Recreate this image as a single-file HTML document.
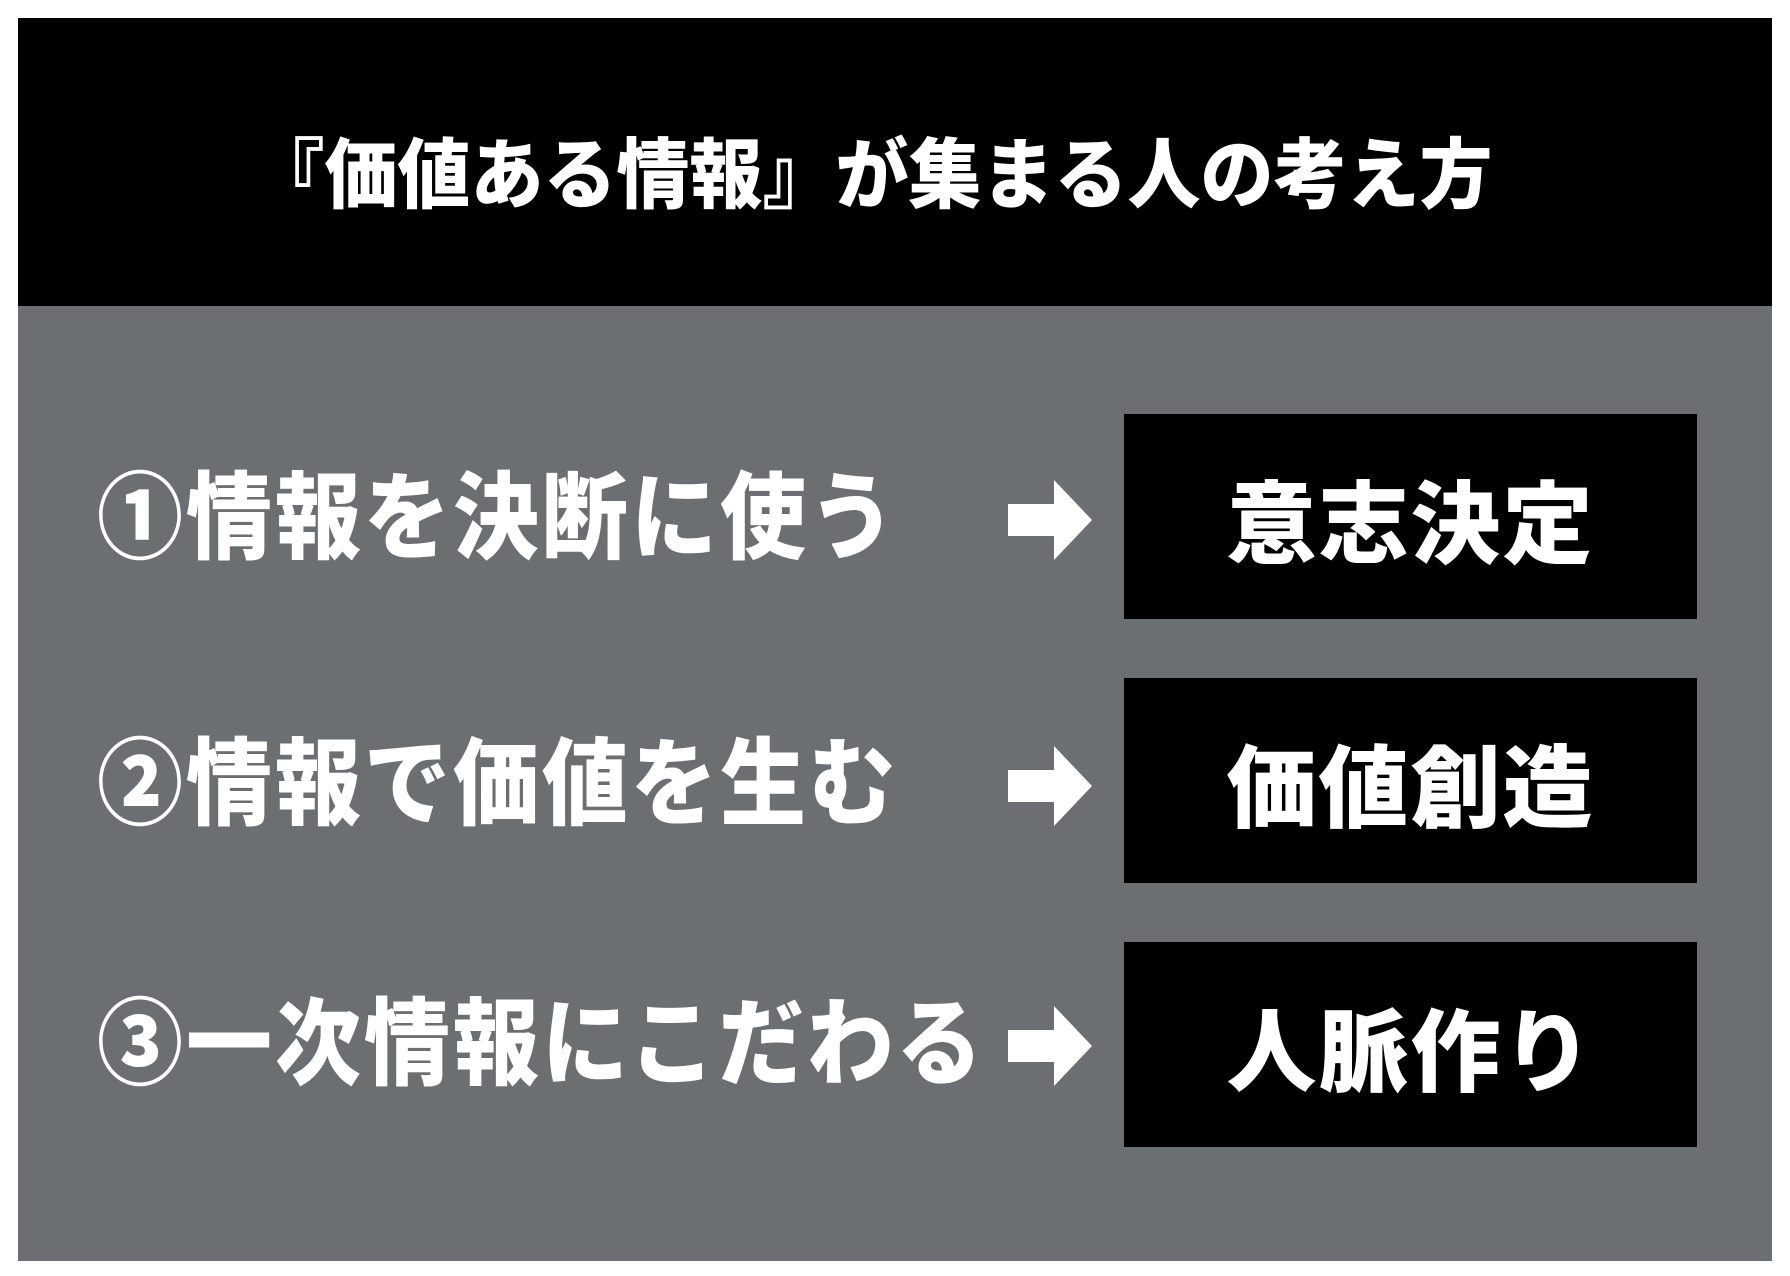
<!DOCTYPE html>
<html><head><meta charset="utf-8"><style>
body{margin:0;width:1790px;height:1276px;background:#fff;position:relative;overflow:hidden;font-family:"Liberation Sans","Noto Sans CJK JP",sans-serif;font-weight:900}
.hd{position:absolute;left:18px;top:18px;width:1754px;height:288px;background:#000}
.gr{position:absolute;left:18px;top:306px;width:1754px;height:955px;background:#6c6f72}
.t{position:absolute;color:#fff;white-space:nowrap;line-height:1}
.box{position:absolute;left:1124px;width:573px;height:205px;background:#000;color:#fff;font-size:90px;display:flex;align-items:center;justify-content:center;letter-spacing:2px}
.lab{position:absolute;left:97px;color:#fff;font-size:86px;line-height:1;white-space:nowrap;transform:scaleY(1.1);transform-origin:left center;letter-spacing:3px}
svg{position:absolute}
</style></head><body>
<div class="hd"></div>
<div class="t" style="left:-23px;width:1790px;text-align:center;top:140px;font-size:73px;transform:scaleY(1.05)">『価値ある情報』が集まる人の考え方</div>
<div class="gr"></div>
<div class="lab" style="top:476px">①情報を決断に使う</div>
<div class="lab" style="top:742px">②情報で価値を生む</div>
<div class="lab" style="top:1002px">③一次情報にこだわる</div>
<svg style="left:1008px;top:480px" width="85" height="80"><polygon points="0,24 46,24 46,0 84,40 46,80 46,56 0,56" fill="#fff"/></svg>
<svg style="left:1008px;top:746px" width="85" height="80"><polygon points="0,24 46,24 46,0 84,40 46,80 46,56 0,56" fill="#fff"/></svg>
<svg style="left:1008px;top:1006px" width="85" height="80"><polygon points="0,24 46,24 46,0 84,40 46,80 46,56 0,56" fill="#fff"/></svg>
<div class="box" style="top:414px">意志決定</div>
<div class="box" style="top:678px">価値創造</div>
<div class="box" style="top:942px">人脈作り</div>
</body></html>
